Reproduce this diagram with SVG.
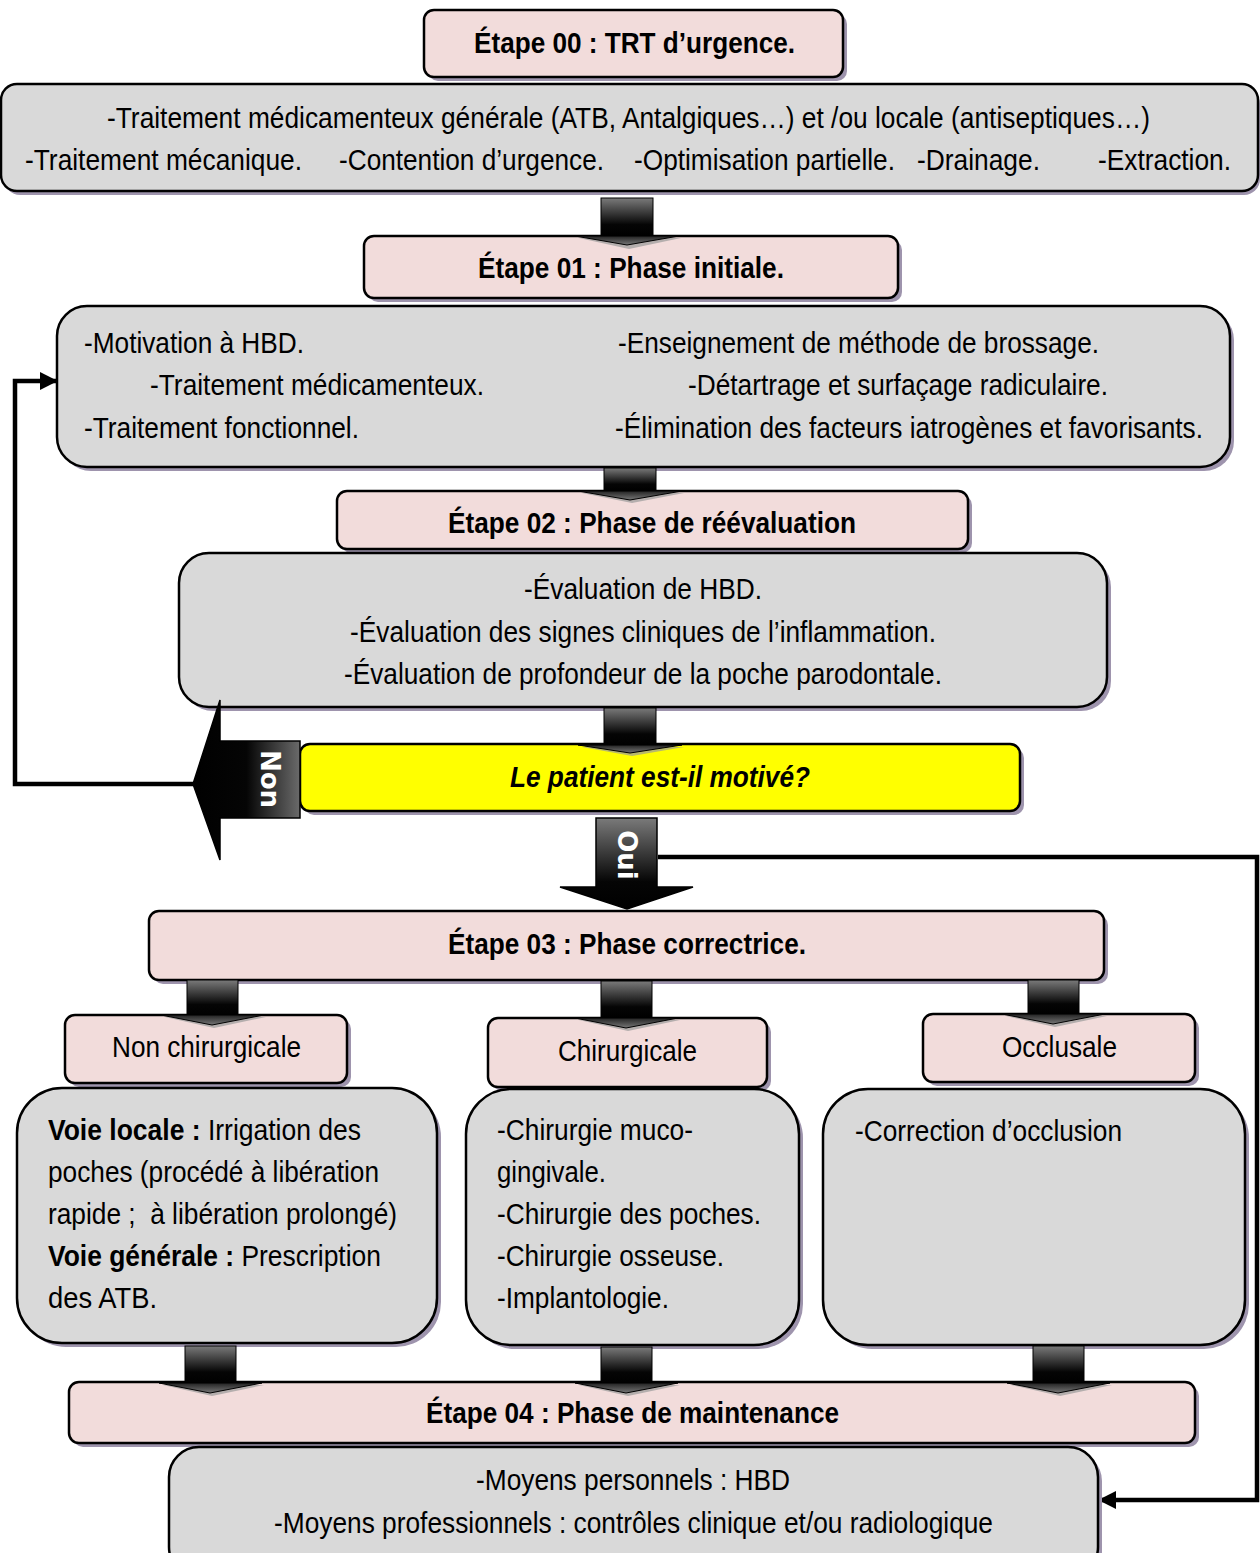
<svg xmlns="http://www.w3.org/2000/svg" width="1260" height="1553" viewBox="0 0 1260 1553">
<defs>
<style>
text{font-family:"Liberation Sans",Arial,sans-serif;font-size:30px;fill:#000}
.b{font-weight:bold}
.pink{fill:#F2DCDB;stroke:#000;stroke-width:2.5}
.grey{fill:#D9D9D9;stroke:#000;stroke-width:2.5}
.yel{fill:#FFFF00;stroke:#000;stroke-width:2.5}
.sh{fill:#9E94AD}
.conn{fill:none;stroke:#000;stroke-width:4.5}
.wt{fill:#fff;font-family:"DejaVu Sans","Liberation Sans",sans-serif;font-weight:bold;font-size:26px;text-anchor:middle}
.shaft{fill:url(#gs);stroke:#000;stroke-width:1}
.head{fill:url(#gh);stroke:#000;stroke-width:1}
.hsh{fill:#9a9a9a;opacity:0.7}
</style>
<linearGradient id="gs" x1="0" y1="0" x2="0" y2="1">
<stop offset="0" stop-color="#7a7a7a"/><stop offset="0.7" stop-color="#050505"/><stop offset="1" stop-color="#000"/>
</linearGradient>
<linearGradient id="gh" x1="0" y1="0" x2="0" y2="1">
<stop offset="0" stop-color="#222"/><stop offset="1" stop-color="#777"/>
</linearGradient>
<linearGradient id="gl" x1="1" y1="0" x2="0" y2="0">
<stop offset="0" stop-color="#6a6a6a"/><stop offset="0.5" stop-color="#050505"/><stop offset="1" stop-color="#000"/>
</linearGradient>
<marker id="ah" viewBox="0 0 10 10" refX="9" refY="5" markerWidth="4" markerHeight="4" orient="auto">
<path d="M0,0 L10,5 L0,10 z" fill="#000"/>
</marker>
</defs>

<g id="connectors">
<polyline class="conn" points="193,784 15,784 15,381 56,381" marker-end="url(#ah)"/>
<polyline class="conn" points="658,857 1257,857 1257,1500 1100,1500" marker-end="url(#ah)"/>
</g>

<g id="etape00">
<rect class="sh" x="428" y="14" width="419" height="67" rx="10"/>
<rect class="pink" x="424" y="10" width="419" height="67" rx="10"/>
<text class="b" x="474" y="53" textLength="321" lengthAdjust="spacingAndGlyphs">Étape 00 : TRT d’urgence.</text>
</g>

<g id="urgence">
<rect class="sh" x="4" y="88" width="1256" height="107" rx="16"/>
<rect class="grey" x="1" y="84" width="1257" height="107" rx="16"/>
<text x="107" y="128" textLength="1043" lengthAdjust="spacingAndGlyphs">-Traitement médicamenteux générale (ATB, Antalgiques…) et /ou locale (antiseptiques…)</text>
<text x="25" y="170" textLength="277" lengthAdjust="spacingAndGlyphs">-Traitement mécanique.</text>
<text x="339" y="170" textLength="265" lengthAdjust="spacingAndGlyphs">-Contention d’urgence.</text>
<text x="634" y="170" textLength="261" lengthAdjust="spacingAndGlyphs">-Optimisation partielle.</text>
<text x="917" y="170" textLength="123" lengthAdjust="spacingAndGlyphs">-Drainage.</text>
<text x="1098" y="170" textLength="133" lengthAdjust="spacingAndGlyphs">-Extraction.</text>
</g>

<g id="etape01">
<rect class="sh" x="368" y="240" width="534" height="62" rx="10"/>
<rect class="pink" x="364" y="236" width="534" height="62" rx="10"/>
<text class="b" x="478" y="278" textLength="306" lengthAdjust="spacingAndGlyphs">Étape 01 : Phase initiale.</text>
</g>

<g id="initiale">
<rect class="sh" x="61" y="310" width="1173" height="161" rx="30"/>
<rect class="grey" x="57" y="306" width="1173" height="161" rx="30"/>
<text x="84" y="353" textLength="220" lengthAdjust="spacingAndGlyphs">-Motivation à HBD.</text>
<text x="150" y="395" textLength="334" lengthAdjust="spacingAndGlyphs">-Traitement médicamenteux.</text>
<text x="84" y="438" textLength="275" lengthAdjust="spacingAndGlyphs">-Traitement fonctionnel.</text>
<text x="618" y="353" textLength="481" lengthAdjust="spacingAndGlyphs">-Enseignement de méthode de brossage.</text>
<text x="688" y="395" textLength="420" lengthAdjust="spacingAndGlyphs">-Détartrage et surfaçage radiculaire.</text>
<text x="615" y="438" textLength="588" lengthAdjust="spacingAndGlyphs">-Élimination des facteurs iatrogènes et favorisants.</text>
</g>

<g id="etape02">
<rect class="sh" x="341" y="495" width="631" height="58" rx="10"/>
<rect class="pink" x="337" y="491" width="631" height="58" rx="10"/>
<text class="b" x="448" y="533" textLength="408" lengthAdjust="spacingAndGlyphs">Étape 02 : Phase de réévaluation</text>
</g>

<g id="reevaluation">
<rect class="sh" x="183" y="557" width="928" height="154" rx="30"/>
<rect class="grey" x="179" y="553" width="928" height="154" rx="30"/>
<text x="524" y="599" textLength="238" lengthAdjust="spacingAndGlyphs">-Évaluation de HBD.</text>
<text x="350" y="642" textLength="586" lengthAdjust="spacingAndGlyphs">-Évaluation des signes cliniques de l’inflammation.</text>
<text x="344" y="684" textLength="598" lengthAdjust="spacingAndGlyphs">-Évaluation de profondeur de la poche parodontale.</text>
</g>

<g id="question">
<rect class="sh" x="304" y="748" width="720" height="67" rx="10"/>
<rect class="yel" x="300" y="744" width="720" height="67" rx="10"/>
<text class="b" x="510" y="787" font-style="italic" textLength="300" lengthAdjust="spacingAndGlyphs">Le patient est-il motivé?</text>
</g>

<g id="non">
<polygon points="193,784 220,700 220,741 300,741 300,818 220,818 220,860" fill="url(#gl)" stroke="#000" stroke-width="1.5"/>
<text class="wt" transform="translate(261,779) rotate(90)">Non</text>
</g>

<g id="etape03">
<rect class="sh" x="153" y="915" width="955" height="69" rx="10"/>
<rect class="pink" x="149" y="911" width="955" height="69" rx="10"/>
<text class="b" x="448" y="954" textLength="358" lengthAdjust="spacingAndGlyphs">Étape 03 : Phase correctrice.</text>
</g>

<g id="oui">
<polygon points="596,818 657,818 657,887 693,887 627,909 560,887 596,887" fill="url(#gs)" stroke="#000" stroke-width="1.5"/>
<text class="wt" transform="translate(618,855) rotate(90)">Oui</text>
</g>

<g id="nonchir">
<rect class="sh" x="69" y="1019" width="282" height="68" rx="10"/>
<rect class="pink" x="65" y="1015" width="282" height="68" rx="10"/>
<text x="112" y="1057" textLength="189" lengthAdjust="spacingAndGlyphs">Non chirurgicale</text>
</g>

<g id="chir">
<rect class="sh" x="492" y="1022" width="279" height="69" rx="10"/>
<rect class="pink" x="488" y="1018" width="279" height="69" rx="10"/>
<text x="558" y="1061" textLength="139" lengthAdjust="spacingAndGlyphs">Chirurgicale</text>
</g>

<g id="occl">
<rect class="sh" x="927" y="1018" width="272" height="68" rx="10"/>
<rect class="pink" x="923" y="1014" width="272" height="68" rx="10"/>
<text x="1002" y="1057" textLength="115" lengthAdjust="spacingAndGlyphs">Occlusale</text>
</g>

<g id="nonchir-detail">
<rect class="sh" x="21" y="1092" width="420" height="255" rx="45"/>
<rect class="grey" x="17" y="1088" width="420" height="255" rx="45"/>
<text x="48" y="1140" textLength="313" lengthAdjust="spacingAndGlyphs"><tspan class="b">Voie locale :</tspan> Irrigation des</text>
<text x="48" y="1182" textLength="331" lengthAdjust="spacingAndGlyphs">poches (procédé à libération</text>
<text x="48" y="1224" textLength="349" lengthAdjust="spacingAndGlyphs" xml:space="preserve">rapide ;  à libération prolongé)</text>
<text x="48" y="1266" textLength="333" lengthAdjust="spacingAndGlyphs"><tspan class="b">Voie générale :</tspan> Prescription</text>
<text x="48" y="1308" textLength="109" lengthAdjust="spacingAndGlyphs">des ATB.</text>
</g>

<g id="chir-detail">
<rect class="sh" x="470" y="1093" width="333" height="256" rx="45"/>
<rect class="grey" x="466" y="1089" width="333" height="256" rx="45"/>
<text x="497" y="1140" textLength="196" lengthAdjust="spacingAndGlyphs">-Chirurgie muco-</text>
<text x="497" y="1182" textLength="109" lengthAdjust="spacingAndGlyphs">gingivale.</text>
<text x="497" y="1224" textLength="264" lengthAdjust="spacingAndGlyphs">-Chirurgie des poches.</text>
<text x="497" y="1266" textLength="227" lengthAdjust="spacingAndGlyphs">-Chirurgie osseuse.</text>
<text x="497" y="1308" textLength="172" lengthAdjust="spacingAndGlyphs">-Implantologie.</text>
</g>

<g id="occl-detail">
<rect class="sh" x="827" y="1093" width="422" height="256" rx="45"/>
<rect class="grey" x="823" y="1089" width="422" height="256" rx="45"/>
<text x="855" y="1141" textLength="267" lengthAdjust="spacingAndGlyphs">-Correction d’occlusion</text>
</g>

<g id="etape04">
<rect class="sh" x="73" y="1386" width="1126" height="61" rx="10"/>
<rect class="pink" x="69" y="1382" width="1126" height="61" rx="10"/>
<text class="b" x="426" y="1423" textLength="413" lengthAdjust="spacingAndGlyphs">Étape 04 : Phase de maintenance</text>
</g>

<g id="maintenance">
<rect class="sh" x="173" y="1451" width="929" height="130" rx="30"/>
<rect class="grey" x="169" y="1447" width="929" height="130" rx="30"/>
<text x="476" y="1490" textLength="314" lengthAdjust="spacingAndGlyphs">-Moyens personnels : HBD</text>
<text x="274" y="1533" textLength="719" lengthAdjust="spacingAndGlyphs">-Moyens professionnels : contrôles clinique et/ou radiologique</text>
</g>

<g id="arrow1">
<rect class="shaft" x="601" y="198" width="52" height="38"/>
<polygon class="hsh" points="579,238 681,238 629,249"/>
<polygon class="head" points="575,236 679,236 627,245"/>
</g>
<g id="arrow2">
<rect class="shaft" x="604" y="468" width="52" height="23"/>
<polygon class="hsh" points="582,493 684,493 632,503"/>
<polygon class="head" points="578,491 682,491 630,500"/>
</g>
<g id="arrow3">
<rect class="shaft" x="604" y="708" width="52" height="37"/>
<polygon class="hsh" points="582,747 684,747 632,756"/>
<polygon class="head" points="578,745 682,745 630,753"/>
</g>
<g id="arrows3">
<rect class="shaft" x="187" y="980" width="51" height="35"/>
<polygon class="hsh" points="165,1017 266,1017 214,1028"/>
<polygon class="head" points="161,1015 264,1015 212,1025"/>
<rect class="shaft" x="601" y="981" width="51" height="37"/>
<polygon class="hsh" points="579,1020 680,1020 628,1031"/>
<polygon class="head" points="575,1018 678,1018 626,1028"/>
<rect class="shaft" x="1028" y="980" width="51" height="34"/>
<polygon class="hsh" points="1006,1016 1107,1016 1055,1027"/>
<polygon class="head" points="1002,1014 1105,1014 1053,1024"/>
</g>
<g id="arrows4">
<rect class="shaft" x="185" y="1346" width="51" height="37"/>
<polygon class="hsh" points="163,1385 264,1385 212,1396"/>
<polygon class="head" points="159,1383 262,1383 210,1393"/>
<rect class="shaft" x="601" y="1347" width="51" height="36"/>
<polygon class="hsh" points="579,1385 680,1385 628,1396"/>
<polygon class="head" points="575,1383 678,1383 626,1393"/>
<rect class="shaft" x="1033" y="1346" width="51" height="37"/>
<polygon class="hsh" points="1011,1385 1112,1385 1060,1396"/>
<polygon class="head" points="1007,1383 1110,1383 1058,1393"/>
</g>
</svg>
